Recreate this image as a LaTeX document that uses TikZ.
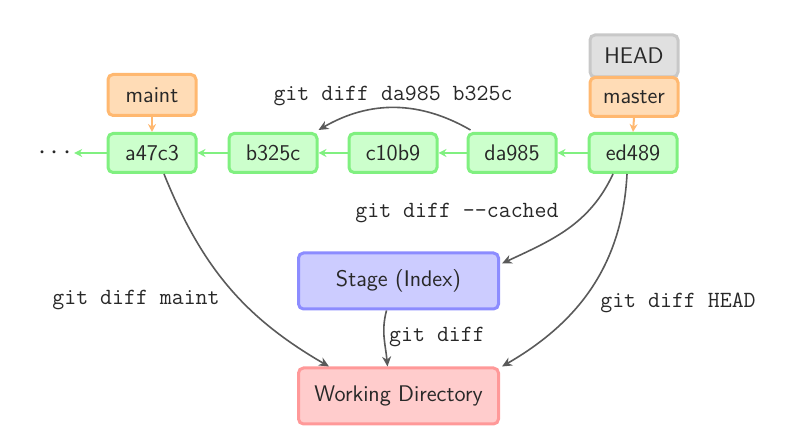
\documentclass[tikz,border=0pt]{standalone}
\usetikzlibrary{arrows.meta}
\definecolor{gfill}{RGB}{204,255,204}
\definecolor{gdraw}{RGB}{128,240,128}
\definecolor{ofill}{RGB}{255,220,182}
\definecolor{odraw}{RGB}{255,184,112}
\definecolor{hfill}{RGB}{224,224,224}
\definecolor{hdraw}{RGB}{200,200,200}
\definecolor{bfill}{RGB}{204,204,255}
\definecolor{bdraw}{RGB}{140,140,255}
\definecolor{rfill}{RGB}{255,204,204}
\definecolor{rdraw}{RGB}{255,153,153}
\definecolor{txt}{RGB}{40,40,40}
\definecolor{edge}{RGB}{90,90,90}
\begin{document}
\begin{tikzpicture}[x=0.5pt,y=0.5pt,
  box/.style={rounded corners=2.5pt,line width=1.5pt,font=\sffamily\fontsize{11.3}{13}\selectfont,text=txt,
    minimum width=44pt,minimum height=19.5pt,inner sep=0pt},
  commit/.style={box,fill=gfill,draw=gdraw},
  branch/.style={box,fill=ofill,draw=odraw},
  headbox/.style={box,fill=hfill,draw=hdraw},
  area/.style={box,minimum width=100pt,minimum height=28pt},
  lbl/.style={font=\ttfamily\fontsize{11.6}{13}\selectfont,text=txt},
  garr/.style={draw=gdraw,line width=1pt,-{Stealth[length=4pt,width=4pt]}},
  oarr/.style={draw=odraw,line width=1pt,-{Stealth[length=4pt,width=4pt]}},
  darr/.style={draw=edge,line width=0.8pt,-{Stealth[length=5pt,width=4.5pt]}}]
\useasboundingbox (0,0) rectangle (796,431);
% refs
\node[headbox,minimum height=21pt] (head) at (634,375) {HEAD};
\node[branch] (master) at (634,334) {master};
\node[branch,minimum height=20.5pt] (maint) at (152,336) {maint};
% commits
\node[commit] (a47c3) at (152,278) {a47c3};
\node[commit] (b325c) at (273,278) {b325c};
\node[commit] (c10b9) at (393,278) {c10b9};
\node[commit] (da985) at (512,278) {da985};
\node[commit] (ed489) at (633,278) {ed489};
\node[font=\fontsize{14}{16}\selectfont,text=txt,inner sep=1pt] (dots) at (55,278) {$\cdots$};
% areas
\node[area,fill=bfill,draw=bdraw] (stage) at (398.5,150) {Stage (Index)};
\node[area,fill=rfill,draw=rdraw] (work) at (398.5,35) {Working Directory};
% history arrows
\draw[garr] (ed489.west) -- (da985.east);
\draw[garr] (da985.west) -- (c10b9.east);
\draw[garr] (c10b9.west) -- (b325c.east);
\draw[garr] (b325c.west) -- (a47c3.east);
\draw[garr] (a47c3.west) -- (a47c3.west -| dots.east);
\draw[oarr] (master.south) -- (ed489.north);
\draw[oarr] (maint.south) -- (a47c3.north);
% diff arrows
\draw[darr] ([xshift=2pt,yshift=1pt]da985.north west) to[out=150,in=30] ([yshift=1pt]b325c.north east);
\draw[darr] ([xshift=-10pt]ed489.south) to[out=-115,in=25] ([xshift=1pt,yshift=-6pt]stage.north east);
\draw[darr] ([xshift=-3pt]ed489.south) to[out=-93,in=30] ([xshift=1pt,yshift=0pt]work.north east);
\draw[darr] ([xshift=6pt]a47c3.south) to[out=-68,in=150] ([xshift=16pt]work.north west);
\draw[darr] ([xshift=-6pt]stage.south) to[out=-105,in=95] ([xshift=-5.5pt]work.north);
% labels
\node[lbl] (l1) at (393,335) {git diff da985 b325c};
\node[lbl] (l2) at (457,218) {git diff --cached};
\node[lbl] (l3) at (678,128) {git diff HEAD};
\node[lbl] (l4) at (136,131) {git diff maint};
\node[lbl] (l5) at (437,94) {git diff};
\end{tikzpicture}
\end{document}
